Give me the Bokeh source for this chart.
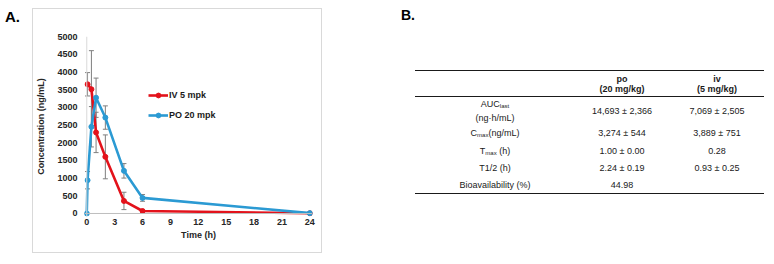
from bokeh.plotting import figure
from bokeh.models import (Div, Range1d, FixedTicker, Whisker, TeeHead, Span,
                          ColumnDataSource, Legend, LegendItem)
from bokeh.layouts import row
from bokeh.embed import file_html
from bokeh.resources import INLINE

# ---------------- data (panel A) ----------------
iv_time = [0.083, 0.5, 1, 2, 4, 6, 24]
iv_conc = [3650, 3510, 2290, 1600, 355, 70, 5]
iv_sd = [330, 1090, 570, 620, 245, 20, 2]

po_time = [0, 0.083, 0.5, 1, 2, 4, 6, 24]
po_conc = [0, 940, 2450, 3270, 2710, 1205, 440, 10]
po_sd = [0, 245, 570, 555, 330, 205, 95, 5]

x_ticks = [0, 3, 6, 9, 12, 15, 18, 21, 24]
y_ticks = [0, 500, 1000, 1500, 2000, 2500, 3000, 3500, 4000, 4500, 5000]

# ---------------- data (panel B table) ----------------
col_heads = [("po", "(20 mg/kg)"), ("iv", "(5 mg/kg)")]
row_labels = ["AUC<sub>last</sub><br>(ng·h/mL)", "C<sub>max</sub>(ng/mL)",
              "T<sub>max</sub> (h)", "T1/2 (h)", "Bioavailability (%)"]
po_vals = ["14,693 ± 2,366", "3,274 ± 544", "1.00 ± 0.00", "2.24 ± 0.19", "44.98"]
iv_vals = ["7,069 ± 2,505", "3,889 ± 751", "0.28", "0.93 ± 0.25", ""]

FONT = "'Liberation Sans', Arial, sans-serif"
RED = "#e3121b"
BLUE = "#2b9ad3"
GRAY = "#7f7f7f"

# ---------------- panel A figure ----------------
p = figure(width=290, height=245, output_backend="svg", toolbar_location=None,
           x_range=Range1d(-0.244, 24.286), y_range=Range1d(-85, 5000),
           min_border_left=48, min_border_right=11, min_border_top=27,
           min_border_bottom=38, outline_line_color=None,
           styles={"border": "1px solid #d9d9d9"}, margin=0)
p.grid.visible = False

for ax in (p.xaxis[0], p.yaxis[0]):
    ax.axis_line_color = None
    ax.major_tick_out = 0
    ax.major_tick_in = 0
    ax.minor_tick_out = 0
    ax.minor_tick_in = 0
    ax.major_label_text_font = "Liberation Sans"
    ax.major_label_text_font_style = "bold"
    ax.major_label_text_font_size = "9px"
    ax.major_label_text_color = "#262626"
    ax.axis_label_text_font = "Liberation Sans"
    ax.axis_label_text_font_style = "bold"
    ax.axis_label_text_font_size = "9px"
    ax.axis_label_text_color = "#262626"

p.xaxis.ticker = FixedTicker(ticks=x_ticks)
p.yaxis.ticker = FixedTicker(ticks=y_ticks)
p.xaxis.axis_label = "Time (h)"
p.yaxis.axis_label = "Concentration (ng/mL)"
p.xaxis.major_label_standoff = 2
p.yaxis.major_label_standoff = 7
p.xaxis.axis_label_standoff = 2
p.yaxis.axis_label_standoff = 8

# axis lines at the data zero (Excel style)
p.add_layout(Span(location=0, dimension="height", line_color="#d9d9d9", line_width=1))
p.add_layout(Span(location=0, dimension="width", line_color="#bfbfbf", line_width=1))

iv_src = ColumnDataSource(dict(t=iv_time, c=iv_conc,
                               lo=[c - s for c, s in zip(iv_conc, iv_sd)],
                               hi=[c + s for c, s in zip(iv_conc, iv_sd)]))
po_src = ColumnDataSource(dict(t=po_time, c=po_conc,
                               lo=[c - s for c, s in zip(po_conc, po_sd)],
                               hi=[c + s for c, s in zip(po_conc, po_sd)]))

for src in (iv_src, po_src):
    w = Whisker(source=src, base="t", upper="hi", lower="lo", dimension="height",
                line_color=GRAY, line_width=1,
                upper_head=TeeHead(size=5, line_color=GRAY, line_width=1),
                lower_head=TeeHead(size=5, line_color=GRAY, line_width=1))
    p.add_layout(w)

iv_line = p.line("t", "c", source=iv_src, line_color=RED, line_width=2.6)
iv_pts = p.scatter("t", "c", source=iv_src, size=5, fill_color=RED, line_color=RED)
po_line = p.line("t", "c", source=po_src, line_color=BLUE, line_width=2.6)
po_pts = p.scatter("t", "c", source=po_src, size=5, fill_color=BLUE, line_color=BLUE)

legend = Legend(items=[LegendItem(label="IV 5 mpk", renderers=[iv_line, iv_pts]),
                       LegendItem(label="PO 20 mpk", renderers=[po_line, po_pts])],
                location=(64, 95), padding=0, margin=0, spacing=8,
                glyph_width=20, glyph_height=12, label_height=12, label_standoff=1,
                border_line_color=None, background_fill_alpha=0,
                label_text_font="Liberation Sans", label_text_font_style="bold",
                label_text_font_size="9px", label_text_color="#1a1a1a")
p.add_layout(legend)

# ---------------- "A." label ----------------
divA = Div(width=24, height=248, margin=0,
           text=(f"<div style=\"position:relative;width:24px;height:248px;font-family:{FONT};\">"
                 f"<div style=\"position:absolute;left:-3px;top:0px;font-size:15px;font-weight:bold;"
                 f"line-height:18px;color:#000;\">A.</div></div>"))


# ---------------- panel B table ----------------
def txt(cx, cy, s, size=9, bold=False, lh=11):
    wt = "bold" if bold else "normal"
    return (f"<div style=\"position:absolute;left:{cx - 100}px;top:{cy - lh / 2}px;width:200px;"
            f"text-align:center;font-size:{size}px;font-weight:{wt};line-height:{lh}px;"
            f"color:#1a1a1a;white-space:nowrap;\">{s}</div>")


def rule(y, x0=93, x1=442):
    return (f"<div style=\"position:absolute;left:{x0}px;top:{y}px;width:{x1 - x0}px;"
            f"height:1.4px;background:#1a1a1a;\"></div>")


col_x = [300, 395]
label_x = 173
row_y = [103, 125.5, 143, 160, 177]
parts = [f"<div style=\"position:relative;width:442px;height:248px;font-family:{FONT};\">"]
parts.append(f"<div style=\"position:absolute;left:79px;top:-2px;font-size:14px;font-weight:bold;"
             f"line-height:18px;color:#000;\">B.</div>")
parts.append(rule(62))
for cx, (h1, h2) in zip(col_x, col_heads):
    parts.append(txt(cx, 71.3, h1, bold=True))
    parts.append(txt(cx, 81.5, h2, bold=True))
parts.append(rule(87.5))
for i, (lab, pv, iv) in enumerate(zip(row_labels, po_vals, iv_vals)):
    y = row_y[i]
    lab_html = lab.replace("<sub>", "<sub style=\"font-size:6px;vertical-align:-1px;\">")
    if "<br>" in lab:
        parts.append(f"<div style=\"position:absolute;left:{label_x - 100}px;top:{y - 12}px;width:200px;"
                     f"text-align:center;font-size:9px;line-height:11.5px;color:#1a1a1a;\">{lab_html}</div>")
    else:
        parts.append(txt(label_x, y, lab_html))
    parts.append(txt(col_x[0], y, pv))
    parts.append(txt(col_x[1], y, iv))
parts.append(rule(185))
parts.append("</div>")

divB = Div(width=434, height=248, margin=0, text="".join(parts))

layout = row(divA, p, divB, spacing=0, margin=(8, 0, 0, 8))
open("out.html", "w").write(file_html(layout, INLINE))
